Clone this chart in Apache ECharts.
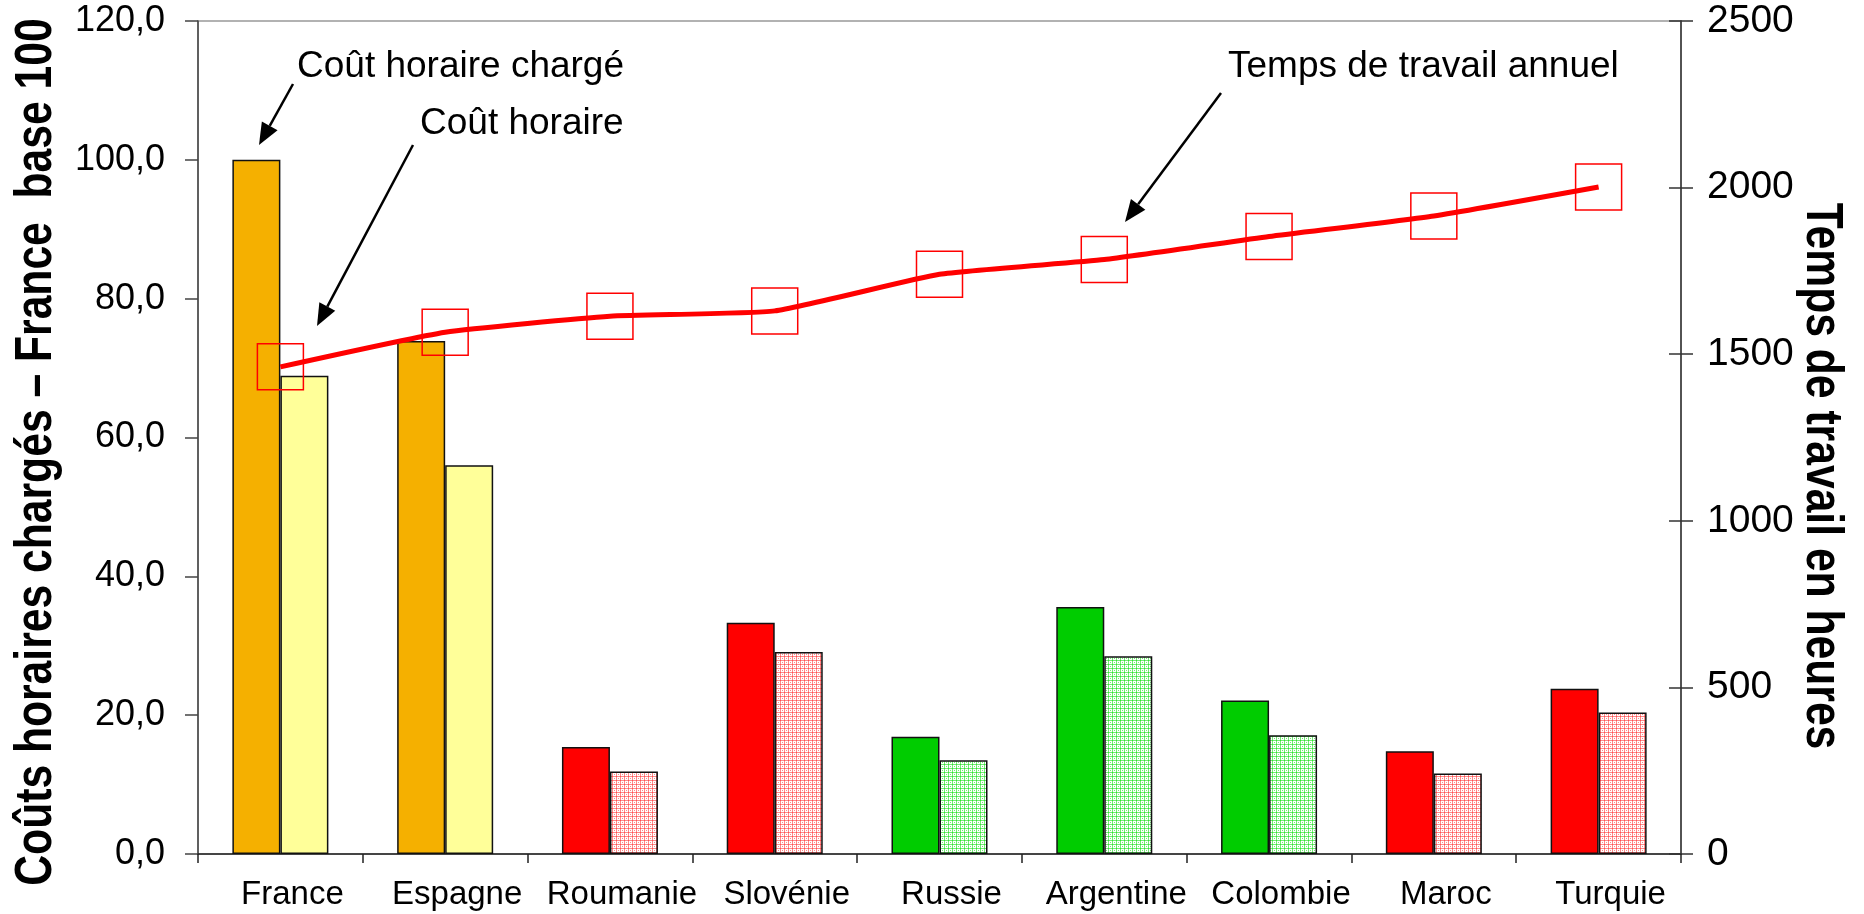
<!DOCTYPE html>
<html>
<head>
<meta charset="utf-8">
<script src="https://cdn.jsdelivr.net/npm/echarts@6/dist/echarts.min.js"></script>
<style>
html,body{margin:0;padding:0;background:#fff;}
#chart{width:1864px;height:914px;}
</style>
</head>
<body>
<div id="chart"></div>
<script>
// ---- data ----
const categories = ['France','Espagne','Roumanie','Slovénie','Russie','Argentine','Colombie','Maroc','Turquie'];
const coutCharge = [100.0, 73.9, 15.4, 33.3, 16.9, 35.6, 22.1, 14.8, 23.8];
const coutHoraire = [68.9, 56.0, 11.9, 29.1, 13.5, 28.5, 17.1, 11.6, 20.4];
const tempsTravail = [1462, 1566, 1614, 1630, 1740, 1784, 1853, 1915, 2002];
const groupes = ['ref','ref','rouge','rouge','vert','vert','vert','rouge','rouge'];
const leftTicks = [0, 20, 40, 60, 80, 100, 120];
const rightTicks = [0, 500, 1000, 1500, 2000, 2500];

// ---- styles ----
function pattern(lineColor){
  const c = document.createElement('canvas');
  c.width = 4; c.height = 4;
  const g = c.getContext('2d');
  g.fillStyle = '#ffffff'; g.fillRect(0,0,4,4);
  g.fillStyle = lineColor;
  g.fillRect(0,0,4,1); g.fillRect(0,0,1,4);
  g.fillRect(2,2,1,1);
  return {image: c, repeat: 'repeat'};
}
const solidColors = {ref:'#F5B000', rouge:'#FF0000', vert:'#00CC00'};
const lightColors = {ref:'#FFFF99', rouge:pattern('rgba(255,40,40,0.55)'), vert:pattern('rgba(0,220,0,0.55)')};

const FONT = 'Liberation Sans, Arial, sans-serif';

const chart = echarts.init(document.getElementById('chart'), null, {renderer:'canvas'});

function arrow(x1,y1,x2,y2){
  const dx = x2-x1, dy = y2-y1, L = Math.sqrt(dx*dx+dy*dy);
  const ux = dx/L, uy = dy/L, nx = -uy, ny = ux;
  const hl = 22, hw = 9;
  const bx = x2-ux*hl, by = y2-uy*hl;
  return [
    {type:'line', shape:{x1:x1,y1:y1,x2:bx,y2:by}, style:{stroke:'#000', lineWidth:2.5}, silent:true},
    {type:'polygon', shape:{points:[[x2,y2],[bx+nx*hw,by+ny*hw],[bx-nx*hw,by-ny*hw]]}, style:{fill:'#000'}, silent:true}
  ];
}
function label(text,x,y){
  return {type:'text', x:x, y:y, style:{text:text, font:'37px Liberation Sans, Arial, sans-serif', fill:'#000', textVerticalAlign:'middle'}, silent:true};
}
function axisTitle(text,x,y,rot){
  return {type:'text', x:x, y:y, rotation:rot, scaleX:0.82, scaleY:1,
    style:{text:text, font:'bold 52px Liberation Sans, Arial, sans-serif', fill:'#000', textAlign:'center', textVerticalAlign:'middle'}, silent:true};
}

const option = {
  backgroundColor:'#fff',
  animation:false,
  grid:{left:198, right:183, top:21, bottom:60, containLabel:false, outerBoundsMode:'none',
    show:true, borderColor:'#999', borderWidth:1.5, backgroundColor:'transparent'},
  xAxis:{
    type:'category', data:categories,
    axisLine:{lineStyle:{color:'#222', width:1.5}},
    axisTick:{show:true, length:9, lineStyle:{color:'#222', width:1.5}},
    axisLabel:{color:'#000', fontFamily:FONT, fontSize:33, margin:24, interval:0, padding:[0,0,0,24]}
  },
  yAxis:[
    {
      type:'value', min:0, max:120, interval:20, position:'left',
      axisLine:{show:true, lineStyle:{color:'#444', width:1.5}},
      axisTick:{show:true, length:13, lineStyle:{color:'#444', width:1.5}},
      splitLine:{show:false},
      axisLabel:{color:'#000', fontFamily:FONT, fontSize:36, margin:33,
        formatter: v => v.toFixed(1).replace('.', ',')}
    },
    {
      type:'value', min:0, max:2500, interval:500, position:'right',
      axisLine:{show:true, lineStyle:{color:'#333', width:1.5}},
      axisTick:{show:true, length:12, lineStyle:{color:'#333', width:1.5}},
      splitLine:{show:false},
      axisLabel:{color:'#000', fontFamily:FONT, fontSize:39, margin:26, formatter: v => String(v)}
    },
    {
      type:'value', min:0, max:2500, interval:500, position:'right',
      axisLine:{show:false},
      axisTick:{show:true, inside:true, length:12, lineStyle:{color:'#333', width:1.5}},
      axisLabel:{show:false}, splitLine:{show:false}
    }
  ],
  series:[
    {
      name:'Coût horaire chargé', type:'bar', barWidth:48, barGap:'0%', yAxisIndex:0,
      data: coutCharge.map((v,i)=>({value:v, itemStyle:{color:solidColors[groupes[i]]}})),
      itemStyle:{borderColor:'#111', borderWidth:1.5}, z:2
    },
    {
      name:'Coût horaire', type:'bar', barWidth:48, barGap:'0%', yAxisIndex:0,
      data: coutHoraire.map((v,i)=>({value:v, itemStyle:{color:lightColors[groupes[i]]}})),
      itemStyle:{borderColor:'#111', borderWidth:1.5}, z:2
    },
    {
      name:'Temps de travail annuel', type:'line', yAxisIndex:1, smooth:0.15,
      data: tempsTravail,
      lineStyle:{color:'#FF0000', width:5},
      symbol:'rect', symbolSize:46,
      itemStyle:{color:'rgba(255,255,255,0)', borderColor:'#FF0000', borderWidth:1.5},
      z:5
    }
  ],
  graphic:[
    axisTitle('Coûts horaires chargés – France  base 100', 37, 452, Math.PI/2),
    axisTitle('Temps de travail en heures', 1821, 476, -Math.PI/2),
    label('Coût horaire chargé', 297, 67),
    label('Coût horaire', 420, 124),
    label('Temps de travail annuel', 1228, 67),
    ...arrow(293,84,259,145),
    ...arrow(413,145,317,326),
    ...arrow(1221,93,1125,222)
  ]
};
chart.setOption(option);
</script>
</body>
</html>
